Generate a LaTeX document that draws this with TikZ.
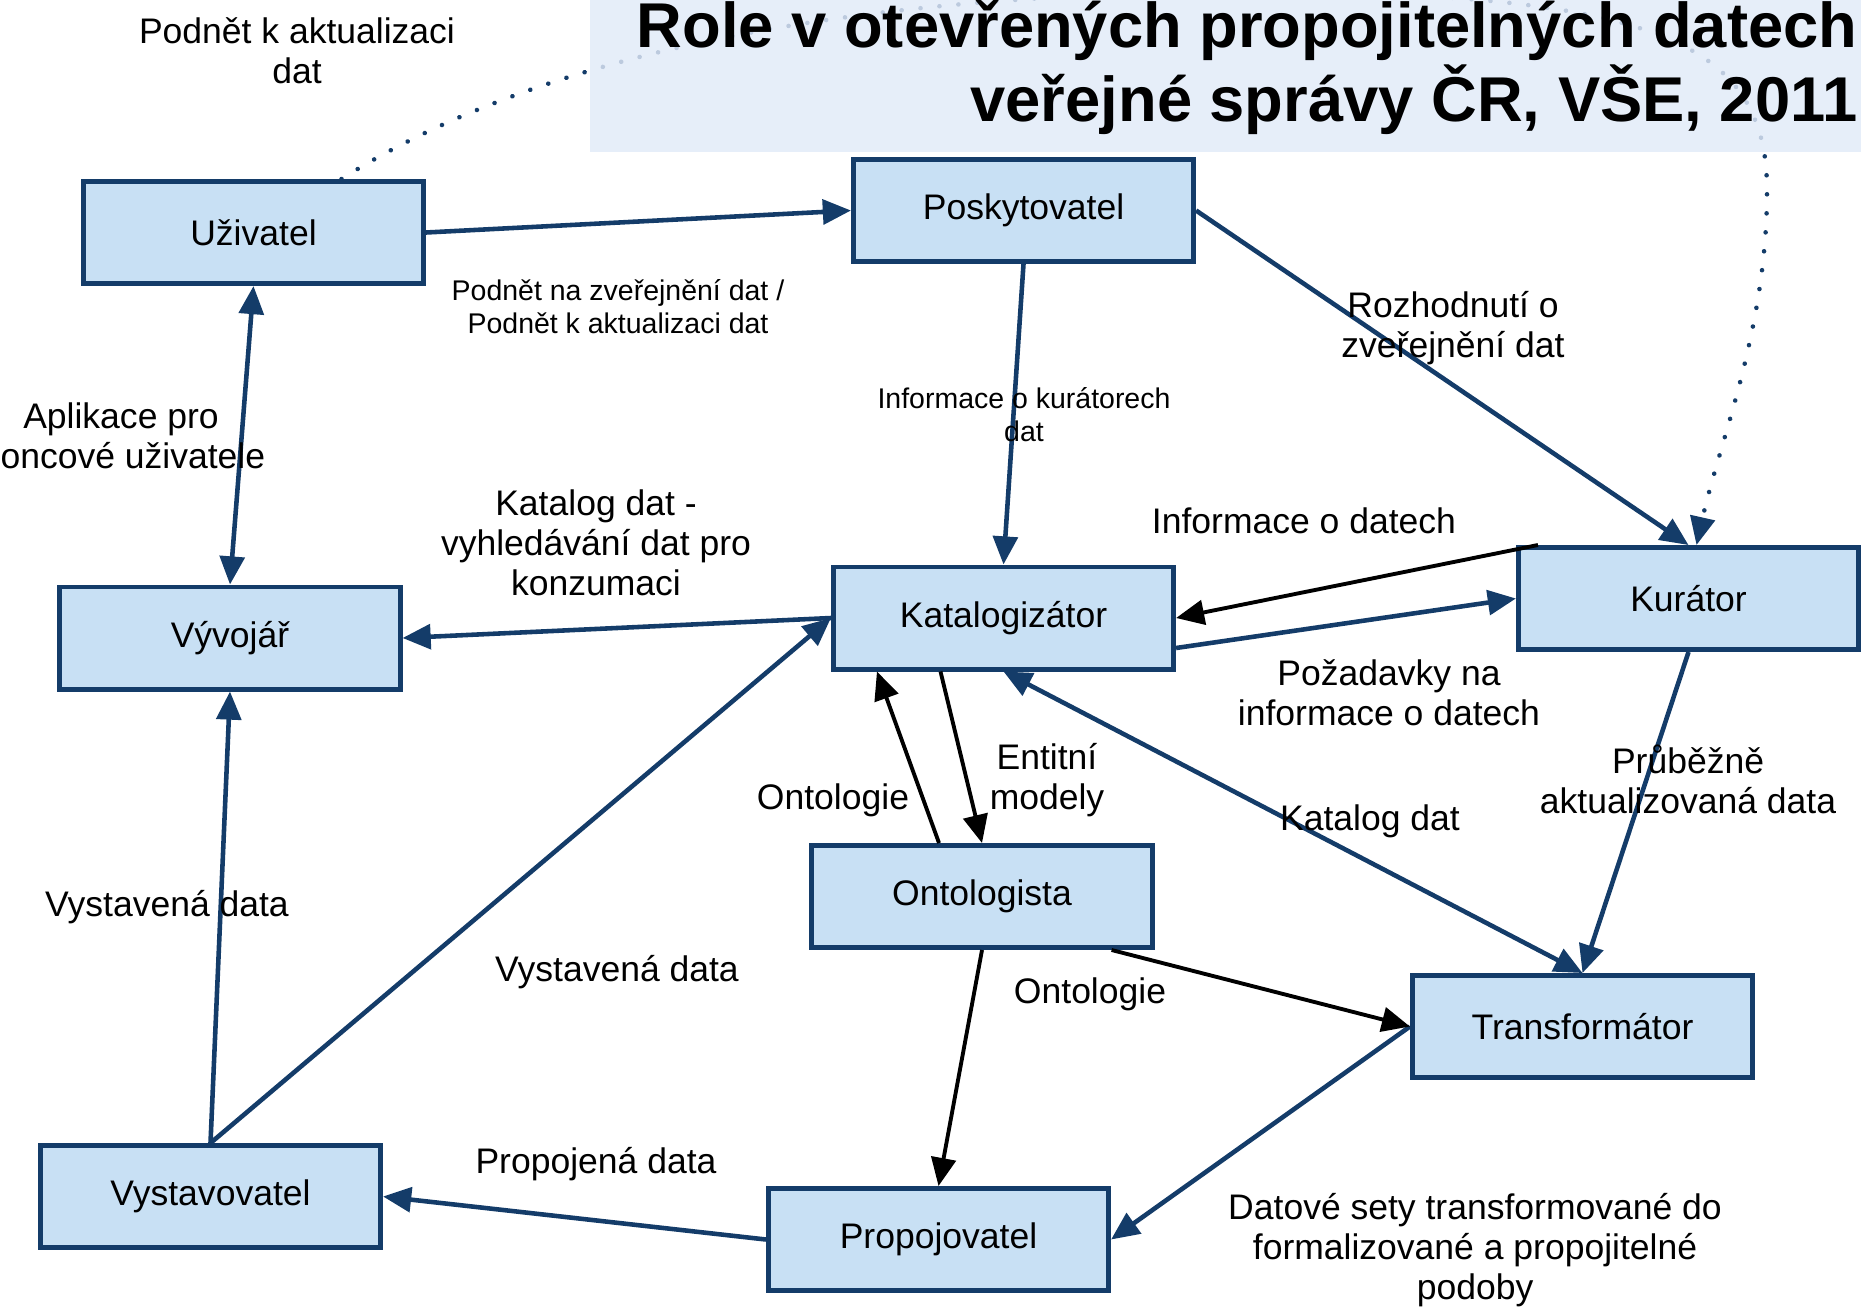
\documentclass[tikz,border=0pt]{standalone}
\usepackage{fontspec}
\setmainfont{Liberation Sans}
\usetikzlibrary{arrows.meta,calc}
\definecolor{rolefill}{HTML}{C8E0F4}
\definecolor{navy}{HTML}{143C69}
\definecolor{titlebg}{HTML}{E1EAF8}

\begin{document}
\begin{tikzpicture}[x=0.01cm, y=-0.01cm,
    >={Triangle[length=8pt,width=7pt]},
    role/.style={draw=navy, line width=1.4pt, fill=rolefill, minimum width=3.4cm,
      minimum height=1.02cm, font=\fontsize{10.1}{12}\selectfont},
    lbl/.style={align=center, font=\fontsize{10.1}{11.4}\selectfont},
    lblsmall/.style={align=center, font=\fontsize{8.1}{9.4}\selectfont},
    flow/.style={navy, line width=1.3pt},
    blackflow/.style={black, line width=1.1pt},
    hint/.style={navy, line width=1.3pt, line cap=round, dash pattern=on 0.01pt off 5.4pt}
  ]
        \useasboundingbox (0,0) rectangle (1861,1312);

        % Roles
        \node[role] (uzivatel) at (253.5,232.5) {Uživatel};
        \node[role] (poskytovatel) at (1023.5,210.5) {Poskytovatel};
        \node[role] (kurator) at (1688.5,598.5) {Kurátor};
        \node[role] (katalogizator) at (1003.5,618) {Katalogizátor};
        \node[role] (vyvojar) at (230,638) {Vývojář};
        \node[role] (ontologista) at (982,896.5) {Ontologista};
        \node[role] (transformator) at (1582.5,1026.5) {Transformátor};
        \node[role] (vystavovatel) at (210.5,1196.5) {Vystavovatel};
        \node[role] (propojovatel) at (938.5,1239.5) {Propojovatel};

        % Dotted hint from user to curator
        \coordinate (hintA) at ($(uzivatel.north)+(88,0)$);
        \coordinate (hintB) at ($(kurator.north)+(8,0)$);
        \draw[hint, ->] (hintA) .. controls (560,40) and (900,-8) .. (1250,-8)
            .. controls (1650,-8) and (1767,40) .. (1767,190)
            .. controls (1767,330) and (1720,440) .. (hintB);

        % Title
        \fill[titlebg, fill opacity=0.82] (590,0) rectangle (1861,152);
        \node[anchor=base east, align=right, inner sep=0pt,
            font=\bfseries\fontsize{18}{21}\selectfont] (title) at (1858,121)
            {Role v otevřených propojitelných datech\\veřejné správy ČR, VŠE, 2011};

        % Blue flows
        \draw[flow, ->] (uzivatel.east) -- (poskytovatel.west);
        \draw[flow, <->] (uzivatel.south) -- (vyvojar.north);
        \draw[flow, ->] (poskytovatel.east) -- (kurator.north);
        \draw[flow, ->] (poskytovatel.south) -- (katalogizator.north);
        \draw[flow, ->] ($(katalogizator.east)+(0,30)$) -- (kurator.west);
        \draw[flow, ->] (katalogizator.west) -- (vyvojar.east);
        \draw[flow, ->] (vystavovatel.north) -- (katalogizator.west);
        \draw[flow, ->] (vystavovatel.north) -- (vyvojar.south);
        \draw[flow, <->] (transformator.north) -- (katalogizator.south);
        \draw[flow, ->] (kurator.south) -- (transformator.north);
        \draw[flow, ->] (transformator.west) -- (propojovatel.east);
        \draw[flow, ->] (propojovatel.west) -- (vystavovatel.east);

        % Black flows
        \draw[blackflow, ->] ($(kurator.north west)+(22,0)$) -- (katalogizator.east);
        \draw[blackflow, ->] ($(ontologista.north)+(-43,0)$) -- ($(katalogizator.south west)+(46,0)$);
        \draw[blackflow, ->] ($(katalogizator.south)+(-63,0)$) -- (ontologista.north);
        \draw[blackflow, ->] ($(ontologista.south east)+(-43,0)$) -- (transformator.west);
        \draw[blackflow, ->] (ontologista.south) -- (propojovatel.north);

        % Labels
        \node[lbl] (l1) at (297,51) {Podnět k aktualizaci\\dat};
        \node[lblsmall] (l2) at (618,307) {Podnět na zveřejnění dat /\\Podnět k aktualizaci dat};
        \node[lbl] (l3) at (1453,328) {Rozhodnutí o\\zveřejnění dat};
        \node[lblsmall] (l4) at (1024,415) {Informace o kurátorech\\dat};
        \node[lbl] (l5) at (121,436) {Aplikace pro\\Koncové uživatele};
        \node[lbl] (l6) at (596,543) {Katalog dat -\\vyhledávání dat pro\\konzumaci};
        \node[lbl] (l7) at (1304,521) {Informace o datech};
        \node[lbl] (l8) at (1389,693) {Požadavky na\\informace o datech};
        \node[lbl] (l9) at (1047,780) {Entitní\\modely};
        \node[lbl] (l10) at (833,800) {Ontologie};
        \node[lbl] (l11) at (1688,779) {Průběžně\\aktualizovaná data};
        \node[lbl] (l12) at (1370,821) {Katalog dat};
        \node[lbl] (l13) at (167,907) {Vystavená data};
        \node[lbl] (l14) at (617,972) {Vystavená data};
        \node[lbl] (l15) at (1090,994) {Ontologie};
        \node[lbl] (l16) at (596,1164) {Propojená data};
        \node[lbl] (l17) at (1475,1250) {Datové sety transformované do\\formalizované a propojitelné\\podoby};

\end{tikzpicture}
\end{document}
